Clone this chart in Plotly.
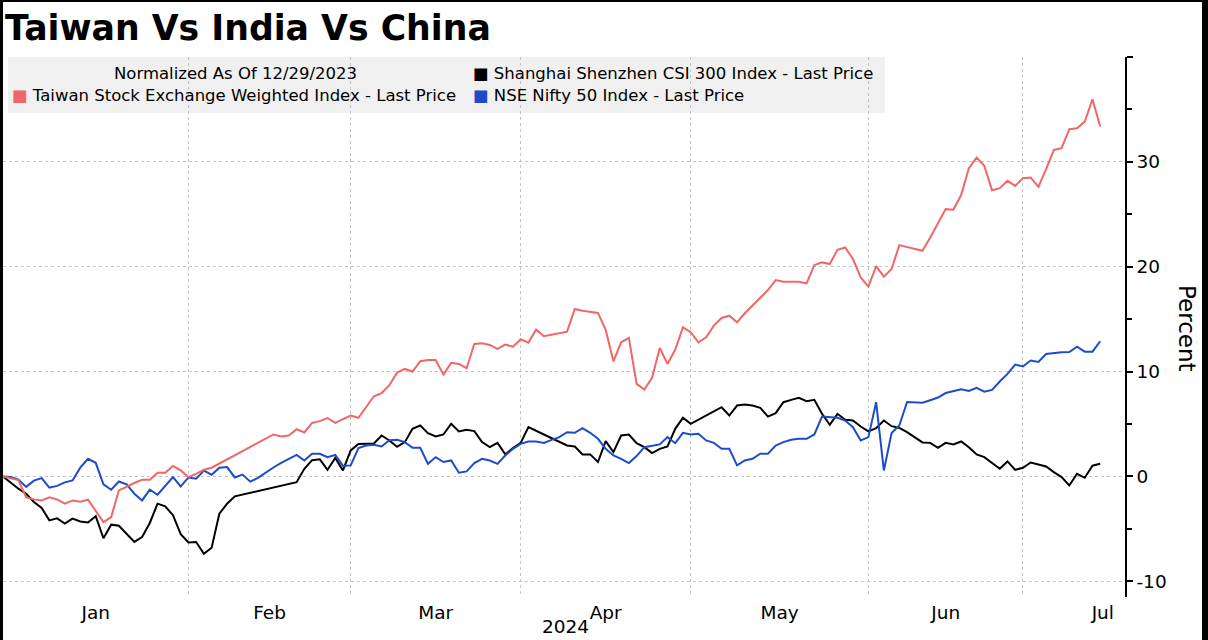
import pandas as pd
import plotly.graph_objects as go

# ---------------- data (percent change, normalized as of 12/29/2023) ----------------
START = "2023-12-29"
END = "2024-07-12"
# Saturday sessions (NSE special sessions) that appear on the chart's session axis
SPECIAL_SESSIONS = ["2024-01-20", "2024-03-02"]

taiwan = [
    0, None, -0.35, -2.0, -2.19, -2.29, -2.0, -2.19, -2.6, -2.29,
    -2.41, -2.22, -3.24, -4.35, -3.87, -1.33, None, -0.63, -0.32, -0.32,
    0.35, 0.35, 1.0, 0.57, -0.06, 0.25, 0.63, 0.83, None, None,
    None, None, None, None, None, 4.0, 3.8, 3.9, 4.5, 4.19,
    5.1, 5.27, 5.57, 5.1, 5.46, 5.81, 5.59, None, 7.65, 7.95,
    8.7, 9.9, 10.25, 10.0, 10.98, 11.11, 11.11, 9.71, 10.83, 10.73,
    10.32, 12.63, 12.7, 12.54, 12.16, 12.57, 12.38, 13.08, 12.76, 14.0,
    13.37, None, None, 13.81, 15.97, 15.8, 15.7, 15.59, 13.97, 10.98,
    12.79, 13.21, 8.83, 8.29, 9.4, 12.25, 10.73, 12.1, 14.22, 13.75,
    12.79, 13.27, 14.38, 15.11, 15.33, 14.7, 15.56, 16.29, 17.02, 17.78,
    18.73, 18.57, 18.57, 18.57, 18.41, 20.16, 20.41, 20.25, 21.62, 21.84,
    20.73, 18.98, 18.1, 20.06, 19.05, 19.78, 22.06, 21.88, None, 21.52,
    22.79, 24.13, 25.49, 25.43, 26.83, 29.4, 30.41, 29.62, 27.3, 27.49,
    28.19, 27.71, 28.44, 28.51, 27.62, 29.3, 31.14, 31.3, 33.11, 33.21,
    33.84, 35.97, 33.37,
]

csi300 = [
    0, None, -1.17, -1.65, -2.44, -3.0, -4.19, -4.0, -4.5, -4.03,
    -4.3, -4.4, -3.8, -5.9, -4.6, -4.7, None, -6.25, -5.78, -4.44,
    -2.6, -2.86, -3.7, -5.5, -6.3, -6.25, -7.37, -6.8, -3.56, -2.6,
    -1.9, None, None, None, None, None, None, -0.77, -0.55, 0.73,
    1.55, 1.63, 0.63, 1.77, 0.57, 2.48, 3.1, None, 3.15, 3.9,
    3.43, 2.82, 3.27, 4.54, 4.86, 4.13, 3.81, 4.0, 5.02, 4.29,
    4.44, 4.32, 3.27, 2.79, 3.2, 2.1, 2.7, 3.2, 4.7, 4.38,
    4.0, None, None, 2.95, 2.86, 2.1, 2.1, 1.37, 3.37, 2.32,
    3.9, 4.0, 3.17, 2.79, 2.22, 2.63, 2.86, 4.54, 5.59, 5.02,
    None, None, None, 6.6, 5.81, 6.76, 6.86, 6.76, 6.54, 5.71,
    6.03, 7.08, 7.3, 7.49, 7.17, 7.3, 5.97, 4.92, 5.97, 5.4,
    5.33, 4.76, 4.29, 4.6, 5.33, 4.79, 4.63, 4.22, None, 3.24,
    3.2, 2.73, 3.2, 3.05, 3.33, 2.79, 2.1, 1.84, 1.3, 0.73,
    1.43, 0.63, 0.83, 1.33, 1.14, 0.95, 0.41, -0.06, -0.86, 0.25,
    -0.13, 1.02, 1.2,
]

nifty = [
    0, -0.06, -0.3, -1.0, -0.4, -0.16, -1.08, -0.9, -0.57, -0.38,
    0.83, 1.68, 1.3, -0.76, -1.27, -0.48, -0.76, -1.65, -2.29, -1.27,
    -1.75, -0.92, -0.06, -0.95, -0.1, -0.22, 0.55, 0.16, 0.83, 0.89,
    -0.1, 0.17, -0.5, -0.13, 0.4, 0.85, 1.3, 1.68, 2.05, 1.52,
    2.16, 2.16, 1.84, 2.05, 1.0, 1.05, 2.7, 2.95, 3.02, 2.86,
    3.46, 3.5, 3.27, 2.73, 2.73, 1.2, 1.84, 1.37, 1.52, 0.35,
    0.48, 1.27, 1.68, 1.52, 1.2, 2.0, 2.63, 3.11, 3.33, 3.33,
    3.2, 3.49, 3.75, 4.22, 4.16, 4.6, 4.16, 3.59, 2.63, 2.0,
    1.68, 1.27, 1.94, 2.79, 2.95, 3.05, 3.75, 3.17, 4.16, 4.0,
    4.06, 3.43, 3.2, 2.63, 2.63, 1.05, 1.52, 1.68, 2.16, 2.16,
    2.95, 3.27, 3.5, 3.59, 3.59, 4.0, 5.71, 5.65, 5.59, 5.33,
    4.7, 3.43, 3.75, 7.08, 0.57, 4.13, 4.86, 7.1, 7.05, 7.02,
    7.27, 7.52, 7.95, 8.13, 8.3, 8.16, 8.44, 8.08, 8.25, 9.05,
    9.78, 10.67, 10.48, 11.05, 10.92, 11.68, 11.78, 11.84, 11.87, 12.38,
    11.9, 11.9, 12.89,
]

SERIES_NAMES = [
    "Taiwan Stock Exchange Weighted Index - Last Price",
    "Shanghai Shenzhen CSI 300 Index - Last Price",
    "NSE Nifty 50 Index - Last Price",
]

MONTH_LABELS = ["Jan", "Feb", "Mar", "Apr", "May", "Jun", "Jul"]
MONTH_LABEL_POS = ["2024-01-16", "2024-02-14 12:00", "2024-03-14", "2024-04-15",
                   "2024-05-15 12:00", "2024-06-14", "2024-07-12 08:00"]
MONTH_GRID = ["2024-01-31", "2024-02-29", "2024-03-29", "2024-04-30",
              "2024-05-31", "2024-06-28"]
Y_TICKS = [-10, 0, 10, 20, 30, 40]
Y_TICKTEXT = ["-10", "0", "10", "20", "30", ""]

# ---------------- session calendar ----------------
special = pd.to_datetime(SPECIAL_SESSIONS)
sessions = sorted(set(pd.bdate_range(START, END)) | set(special))
assert len(sessions) == len(taiwan) == len(csi300) == len(nifty)
all_days = pd.date_range(START, "2024-07-25")
breaks = [d.strftime("%Y-%m-%d") for d in all_days if d.weekday() >= 5 and d not in set(special)]

RED = "#ef6767"
BLACK = "#000000"
BLUE = "#1c4ccc"
FONT = "DejaVu Sans"

W, H = 1208, 640
ML, MR, MT, MB = 3, 83, 57, 43
PW, PH = W - ML - MR, H - MT - MB


def px(x):
    return (x - ML) / PW


def py(y):
    return (H - MB - y) / PH


fig = go.Figure()
for name, vals, col in [(SERIES_NAMES[1], csi300, BLACK),
                        (SERIES_NAMES[2], nifty, BLUE),
                        (SERIES_NAMES[0], taiwan, RED)]:
    fig.add_trace(go.Scatter(x=sessions, y=vals, mode="lines", name=name,
                             connectgaps=True,
                             line=dict(color=col, width=2)))

grid_col = "#c4c4c4"
fig.update_xaxes(
    type="date",
    range=["2023-12-29", "2024-07-17 05:00"],
    rangebreaks=[dict(values=breaks, dvalue=86400000)],
    tickmode="array", tickvals=MONTH_LABEL_POS, ticktext=MONTH_LABELS,
    ticks="", showgrid=False, showline=False, zeroline=False,
    ticklabelstandoff=2,
    tickfont=dict(family=FONT, size=18.5, color="#000"),
    minor=dict(tickmode="array", tickvals=MONTH_GRID, showgrid=True,
               gridcolor=grid_col, griddash="dot", gridwidth=1, ticks=""),
)
fig.update_yaxes(
    side="right", range=[-11.5, 40],
    tickmode="array", tickvals=Y_TICKS, ticktext=Y_TICKTEXT,
    ticks="outside", ticklen=6, tickwidth=1.5, tickcolor="#000",
    showline=True, linecolor="#000", linewidth=1.5,
    showgrid=True, gridcolor=grid_col, griddash="dot", gridwidth=1,
    zeroline=False,
    tickfont=dict(family=FONT, size=18.5, color="#000"),
    minor=dict(tick0=0, dtick=5, ticks="outside", ticklen=5, tickwidth=1.5,
               tickcolor="#000", showgrid=False),
)

shapes = [
    dict(type="rect", xref="paper", yref="paper", x0=px(8), x1=px(885),
         y0=py(113), y1=py(57), fillcolor="#f0f0f0", line=dict(width=0), layer="below"),
    dict(type="rect", xref="paper", yref="paper", x0=px(0), x1=px(3),
         y0=py(640), y1=py(0), fillcolor="#000", line=dict(width=0), layer="above"),
    dict(type="rect", xref="paper", yref="paper", x0=px(0), x1=px(1208),
         y0=py(2), y1=py(0), fillcolor="#000", line=dict(width=0), layer="above"),
    dict(type="rect", xref="paper", yref="paper", x0=px(1202), x1=px(1208),
         y0=py(640), y1=py(0), fillcolor="#000", line=dict(width=0), layer="above"),
]

leg_font = dict(family=FONT, size=16.5, color="#000")


def sq(col):
    return f'<span style="color:{col}">■</span> '


annotations = [
    dict(text="Normalized As Of 12/29/2023", x=px(235), y=py(74), xanchor="center"),
    dict(text=sq(RED) + SERIES_NAMES[0], x=px(10), y=py(95), xanchor="left"),
    dict(text=sq(BLACK) + SERIES_NAMES[1], x=px(471), y=py(74), xanchor="left"),
    dict(text=sq(BLUE) + SERIES_NAMES[2], x=px(471), y=py(95), xanchor="left"),
]
for a in annotations:
    a.update(xref="paper", yref="paper", yanchor="middle", showarrow=False, font=leg_font)

annotations.append(dict(text="Percent", textangle=90, x=px(1187), y=py(328),
                        xref="paper", yref="paper", xanchor="center", yanchor="middle",
                        showarrow=False, font=dict(family=FONT, size=23, color="#000")))
annotations.append(dict(text="2024", x=px(565), y=py(639), xref="paper", yref="paper",
                        xanchor="center", yanchor="bottom", showarrow=False,
                        font=dict(family=FONT, size=18.5, color="#000")))

fig.update_layout(
    width=W, height=H,
    margin=dict(l=ML, r=MR, t=MT, b=MB),
    paper_bgcolor="#ffffff", plot_bgcolor="#ffffff",
    showlegend=False,
    title=dict(text="<b>Taiwan Vs India Vs China</b>", xref="container", yref="container",
               x=5 / W, xanchor="left", y=1 - 28 / H, yanchor="middle",
               font=dict(family=FONT, size=34.7, color="#000")),
    shapes=shapes, annotations=annotations,
)

fig.write_html("out.html")
